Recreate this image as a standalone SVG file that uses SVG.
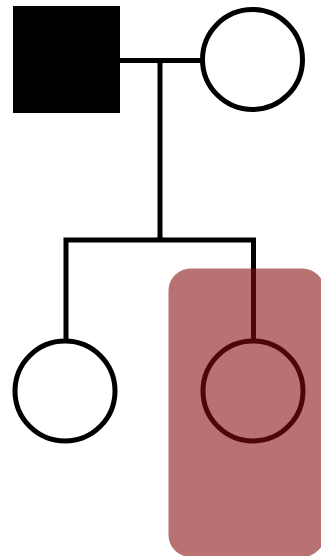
<svg xmlns="http://www.w3.org/2000/svg" width="321" height="556" viewBox="0 0 321 556">
<style>
.ln{stroke:#000;stroke-width:5;fill:none}
.f{fill:#fff;stroke:#000;stroke-width:5}
</style>
<rect width="321" height="556" fill="#fff"/>
<g id="connectors">
<line class="ln" x1="120" y1="60.5" x2="201" y2="60.5"/>
<line class="ln" x1="160" y1="60.5" x2="160" y2="240"/>
<polyline class="ln" points="66,340 66,240 253.5,240 253.5,340"/>
</g>
<g id="father"><rect x="13" y="6" width="107" height="107" fill="#000"/></g>
<g id="mother"><circle class="f" cx="252.5" cy="59.5" r="50"/></g>
<g id="daughter1"><circle class="f" cx="65" cy="391" r="50"/></g>
<g id="daughter2"><circle class="f" cx="253" cy="391" r="50"/></g>
<g id="highlight"><rect x="168.5" y="268.5" width="156" height="288.5" rx="22" fill="#850c0c" fill-opacity="0.58"/></g>
</svg>
